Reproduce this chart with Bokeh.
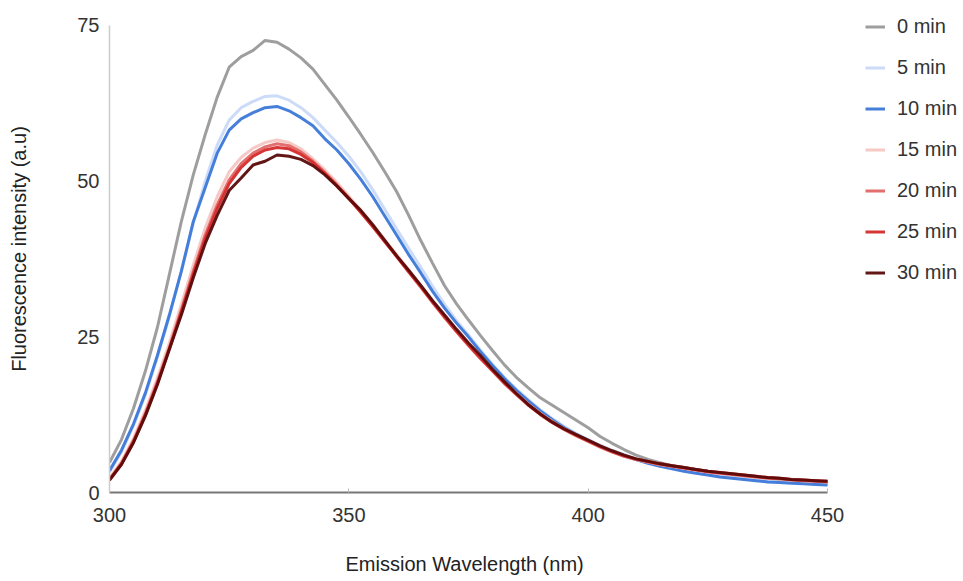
from bokeh.plotting import figure
from bokeh.models import Legend, LegendItem, Range1d, FixedTicker, Title
from bokeh.embed import file_html
from bokeh.resources import INLINE

wavelength = [300 + 2.5 * i for i in range(61)]

min0 = [4.8, 8.5, 13.5, 19.5, 26.5, 35, 43.5, 51, 57.5, 63.5, 68.3, 70, 71, 72.6, 72.3, 71.2,
        69.8, 68, 65.5, 63, 60.3, 57.5, 54.6, 51.5, 48.3, 44.5, 40.5, 36.8, 33.2, 30.3, 27.7,
        25.2, 22.8, 20.5, 18.5, 16.8, 15.2, 14.0, 12.8, 11.6, 10.4, 9.0, 7.9, 6.9, 6.0, 5.3,
        4.8, 4.3, 4.0, 3.7, 3.4, 3.1, 2.9, 2.7, 2.5, 2.3, 2.1, 2.0, 1.8, 1.7, 1.6]

min5 = [3.3, 6.5, 10.7, 15.7, 21.7, 28.3, 35.5, 43.3, 50, 55.8, 59.8, 61.8, 62.8, 63.6, 63.7, 63,
        61.8, 60.2, 58.2, 56.2, 54, 51.5, 48.6, 45.5, 42.3, 39.2, 36.2, 33.1, 30.2, 27.6, 25.3,
        22.9, 20.6, 18.5, 16.6, 14.9, 13.3, 11.9, 10.6, 9.5, 8.5, 7.6, 6.8, 6.1, 5.4, 4.8,
        4.3, 3.9, 3.5, 3.2, 2.9, 2.6, 2.4, 2.2, 2.0, 1.8, 1.7, 1.6, 1.5, 1.4, 1.3]

min10 = [3.5, 6.8, 11, 16, 22, 28.5, 35.5, 43.5, 49, 54.5, 58.2, 60, 61, 61.8, 62, 61.3,
         60.2, 58.9, 56.8, 55, 52.8, 50.3, 47.5, 44.4, 41.3, 38.2, 35.3, 32.3, 29.6, 27.2, 25,
         22.6, 20.4, 18.3, 16.4, 14.7, 13.1, 11.7, 10.4, 9.3, 8.3, 7.4, 6.6, 5.9, 5.3, 4.7,
         4.2, 3.8, 3.4, 3.1, 2.8, 2.5, 2.3, 2.1, 1.9, 1.7, 1.6, 1.5, 1.4, 1.3, 1.2]

min15 = [2.3, 5.0, 8.7, 13.2, 18.4, 24, 30.2, 36.5, 42.5, 47.5, 51.5, 53.8, 55.3, 56.2, 56.6, 56.2,
         55.2, 53.6, 51.8, 49.8, 47.6, 45.3, 43, 40.6, 38.2, 35.7, 33.2, 30.7, 28.3, 26, 23.8,
         21.7, 19.6, 17.6, 15.9, 14.2, 12.7, 11.4, 10.2, 9.2, 8.3, 7.4, 6.6, 5.9, 5.3, 4.9,
         4.5, 4.2, 3.9, 3.6, 3.3, 3.1, 2.9, 2.7, 2.5, 2.3, 2.2, 2.0, 1.9, 1.8, 1.7]

min20 = [2.1, 4.7, 8.3, 12.7, 17.8, 23.3, 29.3, 35.5, 41.3, 46.2, 50.2, 52.8, 54.5, 55.5, 56, 55.7,
         54.7, 53.2, 51.4, 49.4, 47.3, 45, 42.7, 40.3, 37.9, 35.4, 33, 30.5, 28.1, 25.8, 23.6,
         21.5, 19.5, 17.5, 15.7, 14.0, 12.5, 11.2, 10.1, 9.1, 8.2, 7.3, 6.5, 5.8, 5.3, 4.9,
         4.5, 4.2, 3.9, 3.6, 3.3, 3.1, 2.9, 2.7, 2.5, 2.3, 2.2, 2.0, 1.9, 1.8, 1.7]

min25 = [2.0, 4.6, 8.1, 12.5, 17.5, 23, 29, 35, 40.8, 45.6, 49.6, 52.2, 54, 55, 55.4, 55.2,
         54.3, 53, 51.2, 49.3, 47.2, 45, 42.7, 40.3, 37.9, 35.5, 33.1, 30.6, 28.2, 25.9, 23.7,
         21.6, 19.6, 17.6, 15.8, 14.1, 12.6, 11.3, 10.2, 9.2, 8.3, 7.4, 6.6, 5.9, 5.4, 5.0,
         4.6, 4.3, 4.0, 3.7, 3.4, 3.2, 3.0, 2.8, 2.6, 2.4, 2.3, 2.1, 2.0, 1.9, 1.8]

min30 = [2.0, 4.5, 8, 12.3, 17.3, 23, 28.5, 34.5, 40, 44.5, 48.5, 50.5, 52.6, 53.2, 54.2, 54,
         53.5, 52.5, 51, 49.2, 47.2, 45.3, 43, 40.5, 38, 35.7, 33.3, 30.8, 28.5, 26.2, 24,
         22, 19.8, 17.8, 15.9, 14.1, 12.6, 11.3, 10.2, 9.3, 8.4, 7.5, 6.7, 6.0, 5.4, 5.0,
         4.6, 4.3, 4.0, 3.7, 3.4, 3.2, 3.0, 2.8, 2.6, 2.4, 2.3, 2.1, 2.0, 1.9, 1.8]

labels = ["0 min", "5 min", "10 min", "15 min", "20 min", "25 min", "30 min"]
series = [min0, min5, min10, min15, min20, min25, min30]
colors = ["#999999", "#c9daf8", "#3c78d8", "#f4c7c3", "#e06666", "#d52b2b", "#5b0a0a"]

x_ticks = [300, 350, 400, 450]
y_ticks = [0, 25, 50, 75]

FONT = "Liberation Sans"

# frame runs past 450 nm / 75 a.u. so the legend sits inside the drawing area;
# axis lines are bounded to the data extent.
p = figure(width=962, height=581, output_backend="svg", toolbar_location=None,
           x_range=Range1d(300, 477.57), y_range=Range1d(0, 78.21),
           min_border_left=109, min_border_right=3, min_border_top=5, min_border_bottom=89)
p.outline_line_color = None
p.xgrid.visible = False
p.ygrid.visible = False

items = []
for lab, ys, c in zip(labels, series, colors):
    r = p.line(wavelength, ys, line_color=c, line_width=3, line_alpha=0.95)
    items.append(LegendItem(label=lab, renderers=[r]))

legend = Legend(items=items, location=(756, 208), orientation="vertical",
                border_line_color=None, background_fill_alpha=0,
                glyph_width=20, glyph_height=21, label_height=23, spacing=18,
                padding=0, margin=0, label_standoff=12,
                label_text_font=FONT, label_text_font_size="20px", label_text_color="#333333")
p.add_layout(legend, "center")

# axes
p.xaxis.ticker = FixedTicker(ticks=x_ticks)
p.yaxis.ticker = FixedTicker(ticks=y_ticks)
p.xaxis.bounds = (300, 450)
p.yaxis.bounds = (0, 75)
p.yaxis.axis_label = "Fluorescence intensity (a.u)"
for ax in (p.xaxis[0], p.yaxis[0]):
    ax.axis_label_text_font = FONT
    ax.axis_label_text_font_size = "20px"
    ax.axis_label_text_font_style = "normal"
    ax.axis_label_text_color = "#222222"
    ax.major_label_text_font = FONT
    ax.major_label_text_font_size = "20px"
    ax.major_label_text_color = "#333333"
    ax.minor_tick_line_color = None
    ax.major_tick_out = 0
p.xaxis.axis_line_color = "#777777"
p.xaxis.axis_line_width = 2
p.xaxis.major_tick_in = 4
p.xaxis.major_tick_line_color = "#bbbbbb"
p.xaxis.major_label_standoff = 15
p.yaxis.axis_line_color = "#cccccc"
p.yaxis.axis_line_width = 1.5
p.yaxis.major_tick_in = 0
p.yaxis.major_tick_line_color = None
p.yaxis.major_label_standoff = 10
p.yaxis.axis_label_standoff = 44

# x-axis title, centred under the 300-450 span rather than the wider frame;
# the leading blank line pushes it lower, as in the reference
xtitle = Title(text="\nEmission Wavelength (nm)", align="left", offset=236, standoff=2,
               text_font=FONT, text_font_size="20px", text_font_style="normal",
               text_line_height=1.2, text_color="#222222")
p.add_layout(xtitle, "below")

open("out.html", "w").write(file_html(p, INLINE))
